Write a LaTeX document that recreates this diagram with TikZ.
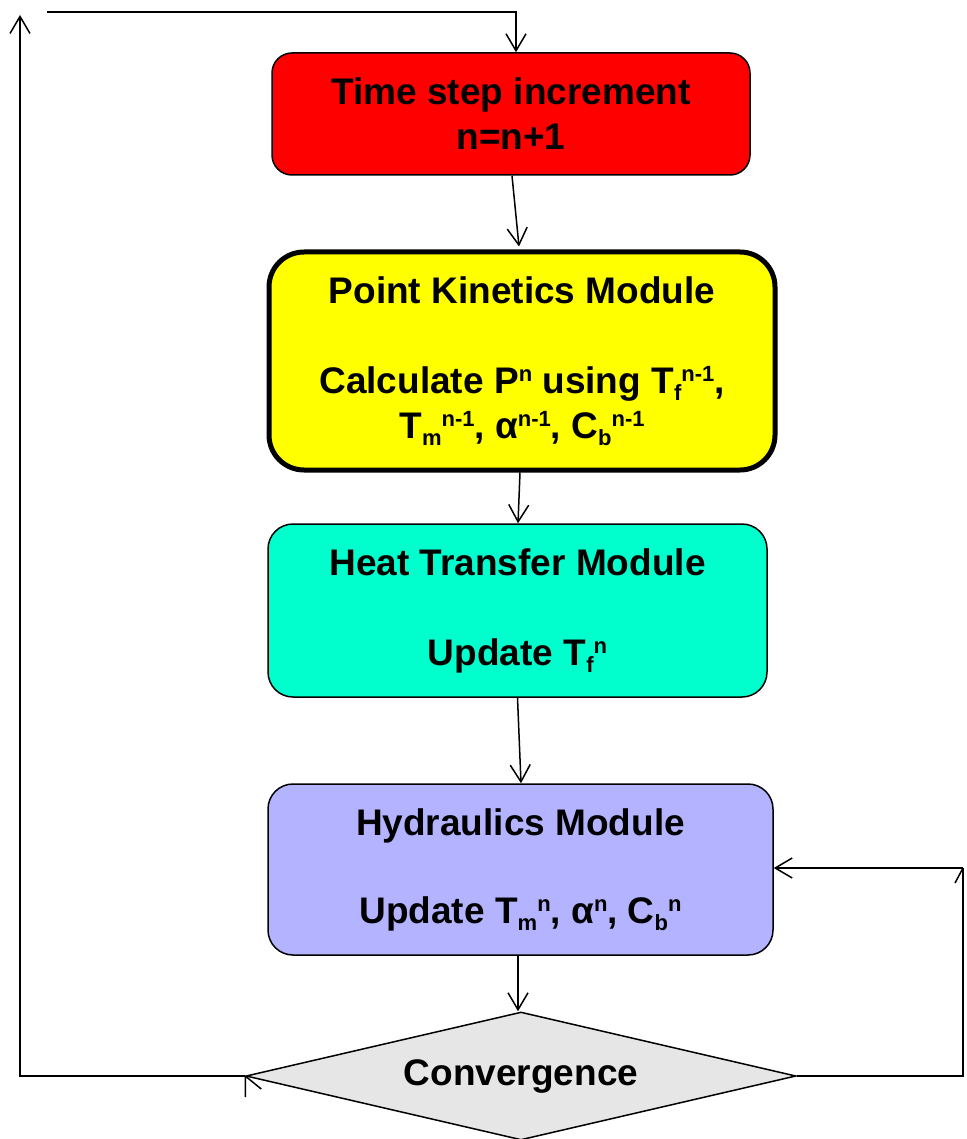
\documentclass[tikz,border=0pt]{standalone}
\usepackage{fontspec}
\setmainfont{Liberation Sans}
\usetikzlibrary{arrows.meta,shapes.geometric}
\definecolor{boxred}{HTML}{FF0000}
\definecolor{boxyellow}{HTML}{FFFF00}
\definecolor{boxcyan}{HTML}{00FFCC}
\definecolor{boxlav}{HTML}{B3B3FF}
\definecolor{diagray}{HTML}{E6E6E6}
\newcommand\supx[1]{\raisebox{12pt}{\fontsize{22}{22}\selectfont #1}}
\newcommand\subx[1]{\raisebox{-7pt}{\fontsize{22}{22}\selectfont #1}}
\begin{document}
\begin{tikzpicture}[x=1pt,y=-1pt,
  box/.style={draw=black, line width=1.5pt, rounded corners=20pt, inner sep=0pt,
    align=center, font=\fontsize{37}{45}\selectfont\bfseries},
  conn/.style={line width=1.5pt},
  arr/.style={conn, -{Straight Barb[length=17pt,width=20pt]}},
]
\useasboundingbox (0,0) rectangle (966,1139);

\node[box, fill=boxred, minimum width=478pt, minimum height=122pt] (inc) at (511,114)
  {Time step increment\\n=n+1};
\node[box, fill=boxyellow, line width=5pt, rounded corners=35pt,
  minimum width=506pt, minimum height=218pt] (pk) at (522,361)
  {Point Kinetics Module\\[45pt]Calculate P\supx{n} using T\subx{f}\supx{n-1},\\
   T\subx{m}\supx{n-1}, α\supx{n-1}, C\subx{b}\supx{n-1}};
\node[box, fill=boxcyan, rounded corners=25pt, minimum width=499pt, minimum height=173pt]
  (ht) at (517.5,610.5) {Heat Transfer Module\\[45pt]Update T\subx{f}\supx{n}};
\node[box, fill=boxlav, rounded corners=25pt, minimum width=505pt, minimum height=171pt]
  (hy) at (520.5,869.5) {Hydraulics Module\\[43pt]Update T\subx{m}\supx{n}, α\supx{n}, C\subx{b}\supx{n}};
\node[draw=black, line width=1.5pt, fill=diagray, shape=diamond, shape aspect=4.3,
  minimum width=550pt, minimum height=128pt, inner sep=0pt,
  font=\fontsize{37}{45}\selectfont\bfseries] (conv) at (521,1076) {Convergence};

\draw[arr] ([xshift=1pt]inc.south) -- ([xshift=-3pt,yshift=3pt]pk.north);
\draw[arr] ([xshift=-2pt]pk.south) -- ([xshift=0.5pt]ht.north);
\draw[arr] (ht.south) -- ([xshift=0.5pt]hy.north);
\draw[arr] ([xshift=-2.5pt]hy.south) -- ([xshift=-3pt]conv.north);

\coordinate (bl) at (20,1076);
\coordinate (tl) at (20,15);
\coordinate (ts) at (47,12);
\coordinate (tr) at (516,12);
\coordinate (br) at (963,1076);
\coordinate (rr) at (963,868);

\draw[arr] (conv.west) -- (bl) -- (tl);
\draw[arr] (ts) -- (tr) -- (tr |- inc.north);
\draw[conn] (conv.east) -- (br) -- (rr);
\draw[arr] (rr) -- (rr -| hy.east);
\draw[conn] (rr) -- ++(-8,15);
\draw[conn] (conv.west) -- ++(0,21) (conv.west) -- ++(16,13);
\end{tikzpicture}
\end{document}
